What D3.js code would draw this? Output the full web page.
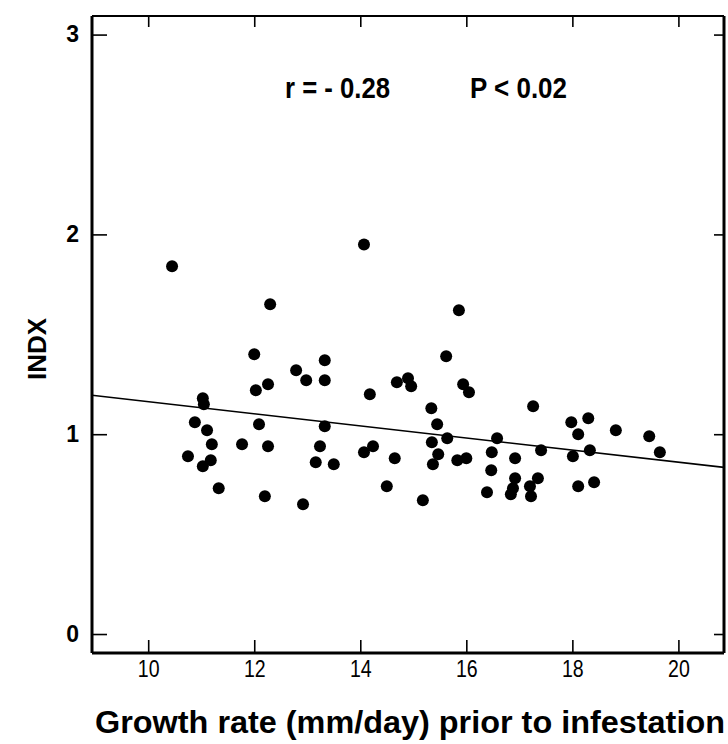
<!DOCTYPE html>
<html>
<head>
<meta charset="utf-8">
<title>INDX vs growth rate</title>
<script src="https://cdnjs.cloudflare.com/ajax/libs/d3/7.8.5/d3.min.js"></script>
<style>
 body { margin: 0; background: #fff; }
 text { fill: #000; }
 .tick-lab { font-family: "Liberation Sans", Arial, sans-serif; font-size: 23px; }
 .ylab { font-family: "Liberation Sans", Arial, sans-serif; font-weight: bold; font-size: 23px; }
 .title { font-family: "Liberation Sans", Arial, sans-serif; font-weight: bold; }
 .note { font-family: "Liberation Sans", Arial, sans-serif; font-weight: bold; font-size: 30px; }
</style>
</head>
<body>
<svg id="chart" width="728" height="744"></svg>
<script>

// growth rate (mm/day) prior to infestation
var growth = [10.45, 14.07, 12.30, 12.00, 13.33, 12.79, 12.98, 13.33, 12.03, 12.26,
  14.18, 11.03, 11.05, 10.88, 11.11, 12.09, 13.33, 11.20, 11.77, 12.26,
  13.24, 14.24, 14.07, 10.75, 11.18, 11.03, 13.16, 13.50, 11.33, 12.20,
  12.92, 14.65, 14.50, 14.69, 14.90, 14.96, 15.86, 15.62, 15.94, 16.05,
  15.34, 15.45, 15.64, 15.35, 15.47, 15.37, 15.83, 16.00, 15.18, 16.58,
  16.48, 16.92, 16.47, 16.39, 16.92, 16.88, 16.84, 17.35, 17.20, 17.22,
  17.26, 17.41, 17.98, 18.30, 18.11, 18.01, 18.33, 18.11, 18.41, 18.82,
  19.45, 19.65];

// INDX
var indx = [1.84, 1.95, 1.65, 1.40, 1.37, 1.32, 1.27, 1.27, 1.22, 1.25,
  1.20, 1.18, 1.15, 1.06, 1.02, 1.05, 1.04, 0.95, 0.95, 0.94,
  0.94, 0.94, 0.91, 0.89, 0.87, 0.84, 0.86, 0.85, 0.73, 0.69,
  0.65, 0.88, 0.74, 1.26, 1.28, 1.24, 1.62, 1.39, 1.25, 1.21,
  1.13, 1.05, 0.98, 0.96, 0.90, 0.85, 0.87, 0.88, 0.67, 0.98,
  0.91, 0.88, 0.82, 0.71, 0.78, 0.73, 0.70, 0.78, 0.74, 0.69,
  1.14, 0.92, 1.06, 1.08, 1.00, 0.89, 0.92, 0.74, 0.76, 1.02,
  0.99, 0.91];

// regression line end points
var fitX = [8.94, 20.86];
var fitY = [1.195, 0.834];

var xTicks = [10, 12, 14, 16, 18, 20];
var yTicks = [0, 1, 2, 3];

var margin = {left: 92, top: 16, right: 4, bottom: 91};
var svg = d3.select("#chart"),
    W = +svg.attr("width") - margin.left - margin.right,
    H = +svg.attr("height") - margin.top - margin.bottom;

var x = d3.scaleLinear().domain([8.94, 20.86]).range([0, W]);
var y = d3.scaleLinear().domain([-0.095, 3.093]).range([H, 0]);

var g = svg.append("g").attr("transform", "translate(" + margin.left + "," + margin.top + ")");

// ticks on all four sides, pointing inward
var axB = g.append("g").attr("transform", "translate(0," + H + ")")
  .call(d3.axisBottom(x).tickValues(xTicks).tickSizeInner(-13).tickSizeOuter(0).tickPadding(8));
var axT = g.append("g")
  .call(d3.axisTop(x).tickValues(xTicks).tickSizeInner(-11).tickSizeOuter(0).tickFormat(""));
var axL = g.append("g")
  .call(d3.axisLeft(y).tickValues(yTicks).tickSizeInner(-15).tickSizeOuter(0).tickPadding(13).tickFormat(d3.format("d")));
var axR = g.append("g").attr("transform", "translate(" + W + ",0)")
  .call(d3.axisRight(y).tickValues(yTicks).tickSizeInner(-10).tickSizeOuter(0).tickFormat(""));

[axB, axT, axL, axR].forEach(function(a) {
  a.select(".domain").remove();
  a.selectAll(".tick line").attr("stroke", "#000").attr("stroke-width", 1.6);
});
axB.selectAll("text").attr("class", "tick-lab").attr("font-family", null).attr("font-size", null)
  .attr("transform", "scale(0.85,1)");
axL.selectAll("text").attr("class", "ylab").attr("font-family", null).attr("font-size", null);

// frame
g.append("line").attr("x1", 0).attr("x2", 0).attr("y1", 0).attr("y2", H).attr("stroke", "#000").attr("stroke-width", 3);
g.append("line").attr("x1", 0).attr("x2", W).attr("y1", H).attr("y2", H).attr("stroke", "#000").attr("stroke-width", 3);
g.append("line").attr("x1", 0).attr("x2", W).attr("y1", 0).attr("y2", 0).attr("stroke", "#000").attr("stroke-width", 2);
g.append("line").attr("x1", W).attr("x2", W).attr("y1", 0).attr("y2", H).attr("stroke", "#000").attr("stroke-width", 3);

// regression line
g.append("path")
  .datum(d3.zip(fitX, fitY))
  .attr("fill", "none").attr("stroke", "#000").attr("stroke-width", 1.6)
  .attr("d", d3.line().x(function(d) { return x(d[0]); }).y(function(d) { return y(d[1]); }));

// points
g.selectAll("circle")
  .data(d3.zip(growth, indx))
  .enter().append("circle")
  .attr("cx", function(d) { return x(d[0]); })
  .attr("cy", function(d) { return y(d[1]); })
  .attr("r", 6)
  .attr("fill", "#000");

// stats note (condensed like the original typeface)
g.append("text").attr("class", "note").attr("x", 193).attr("y", 82)
  .attr("textLength", 105).attr("lengthAdjust", "spacingAndGlyphs").text("r = - 0.28");
g.append("text").attr("class", "note").attr("x", 378).attr("y", 82)
  .attr("textLength", 97).attr("lengthAdjust", "spacingAndGlyphs").text("P < 0.02");

// axis titles
svg.append("text").attr("class", "title")
  .attr("x", 95).attr("y", 733)
  .attr("textLength", 630).attr("lengthAdjust", "spacingAndGlyphs")
  .style("font-size", "31px")
  .text("Growth rate (mm/day) prior to infestation");

svg.append("text").attr("class", "title")
  .attr("transform", "translate(46,349) rotate(-90)")
  .attr("text-anchor", "middle")
  .style("font-size", "26px")
  .text("INDX");

</script>
</body>
</html>
